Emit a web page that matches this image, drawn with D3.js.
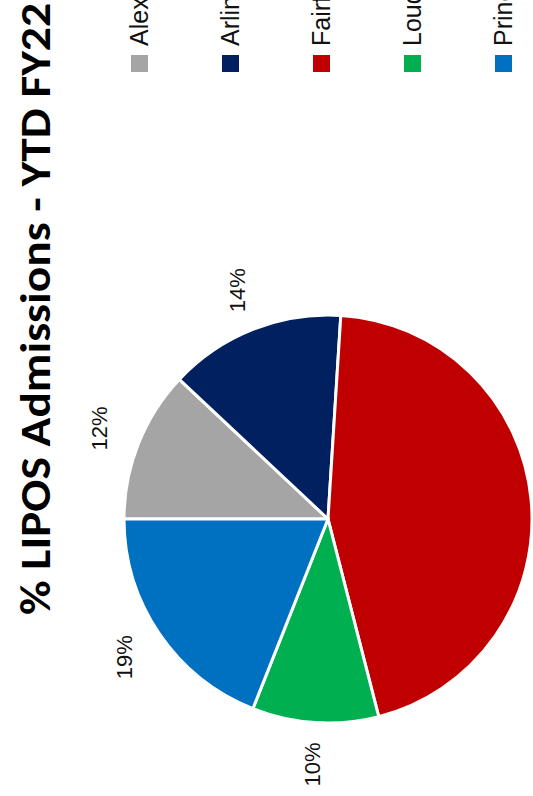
<!DOCTYPE html>
<html>
<head>
<meta charset="utf-8">
<script src="https://cdn.jsdelivr.net/npm/d3@7"></script>
<style>
  html, body { margin: 0; padding: 0; background: #fff; }
  svg { display: block; }
</style>
</head>
<body>
<script>
// Data
const categories = ["Alexandria", "Arlington", "Fairfax", "Loudoun", "Prince William"];
const shares = [12, 14, 45, 10, 19];
const colors = ["#A5A5A5", "#002060", "#C00000", "#00B050", "#0070C0"];
const title = "% LIPOS Admissions - YTD FY22";

const pageW = 533, pageH = 796;
// chart is drawn in its own (unrotated) frame, then rotated -90deg onto the page
const W = pageH, H = pageW;

const svg = d3.select("body").append("svg")
  .attr("width", pageW).attr("height", pageH);

const g = svg.append("g")
  .attr("transform", `translate(0,${pageH}) rotate(-90)`);

// Title
g.append("text")
  .attr("x", 181).attr("y", 50)
  .attr("font-family", "Carlito, 'Liberation Sans', Arial, sans-serif")
  .attr("font-weight", "bold")
  .attr("font-size", 42)
  .attr("textLength", 612)
  .attr("lengthAdjust", "spacingAndGlyphs")
  .attr("fill", "#000")
  .text(title);

// Pie
const cx = 277, cy = 328, R = 204;
const total = d3.sum(shares);
const pie = d3.pie().sort(null).value(d => d)(shares);
const arc = d3.arc().innerRadius(0).outerRadius(R);
const labelArc = d3.arc().innerRadius(246).outerRadius(246);

const pg = g.append("g").attr("transform", `translate(${cx},${cy})`);
pg.selectAll("path").data(pie).join("path")
  .attr("d", arc)
  .attr("fill", (d, i) => colors[i])
  .attr("stroke", "#fff")
  .attr("stroke-width", 3)
  .attr("stroke-linejoin", "miter");

const fmt = d3.format(".0%");
pg.selectAll("text").data(pie).join("text")
  .attr("transform", d => `translate(${labelArc.centroid(d)})`)
  .attr("text-anchor", "middle")
  .attr("dominant-baseline", "central")
  .attr("font-family", "'Liberation Sans', Arial, sans-serif")
  .attr("font-size", 22)
  .attr("fill", "#111")
  .text(d => fmt(d.data / total));

// Legend
const legY = d3.scaleBand().domain(categories).range([131, 131 + 91 * categories.length]).paddingInner(0);
const lg = g.append("g");
const items = lg.selectAll("g").data(categories).join("g")
  .attr("transform", d => `translate(0,${legY(d)})`);
items.append("rect")
  .attr("x", 724).attr("y", 0).attr("width", 17).attr("height", 17)
  .attr("fill", (d, i) => colors[i]);
items.append("text")
  .attr("x", 750).attr("y", 17)
  .attr("font-family", "'Liberation Sans', Arial, sans-serif")
  .attr("font-size", 25)
  .attr("fill", "#111")
  .text(d => d);
</script>
</body>
</html>
